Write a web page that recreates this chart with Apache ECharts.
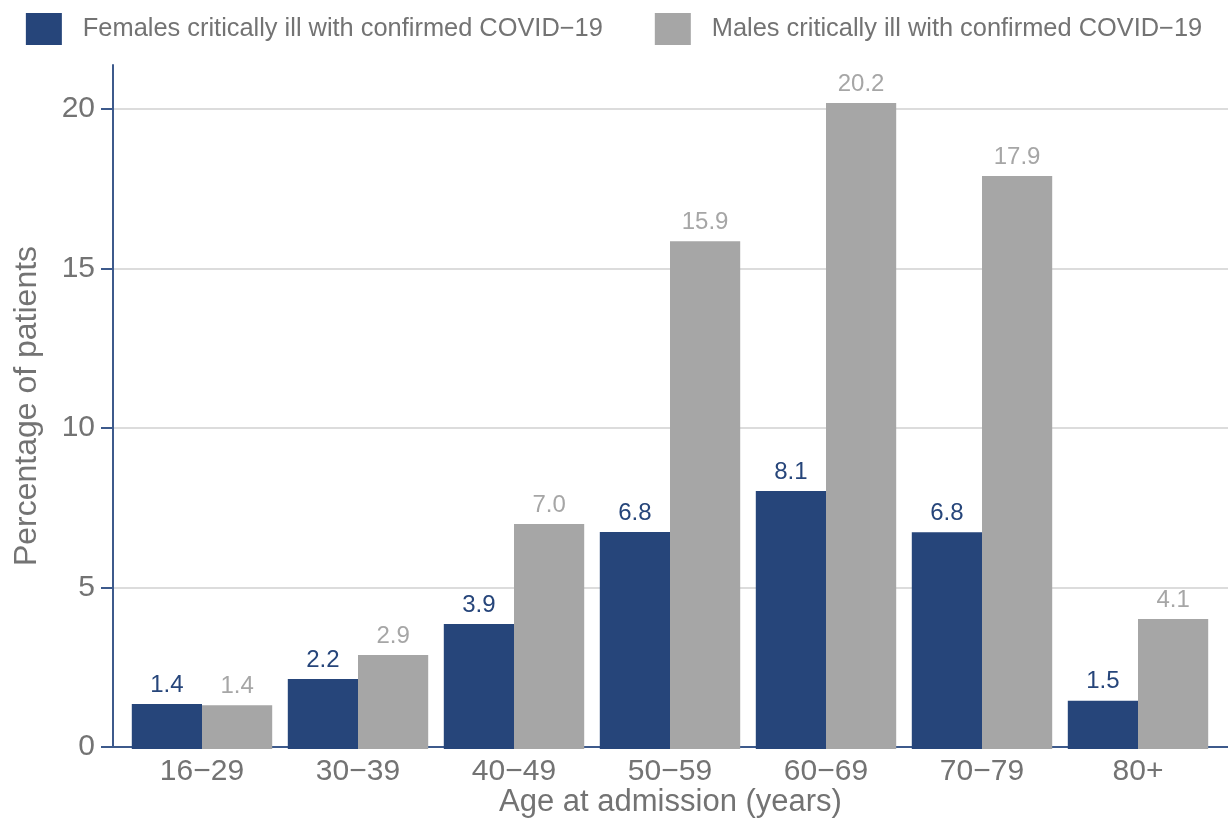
<!DOCTYPE html>
<html>
<head>
<meta charset="utf-8">
<script src="https://cdn.jsdelivr.net/npm/echarts@6/dist/echarts.min.js"></script>
<style>
html,body{margin:0;padding:0;background:#fff;}
#c{width:1228px;height:823px;}
</style>
</head>
<body>
<div id="c"></div>
<script>
const categories = ['16\u221229','30\u221239','40\u221249','50\u221259','60\u221269','70\u221279','80+'];
const femaleValues = [1.41, 2.19, 3.91, 6.78, 8.06, 6.77, 1.51];
const maleValues = [1.37, 2.94, 7.03, 15.87, 20.19, 17.91, 4.06];
const femaleName = 'Females critically ill with confirmed COVID\u221219';
const maleName = 'Males critically ill with confirmed COVID\u221219';
const yTicks = [0, 5, 10, 15, 20];

const FONT = '"Liberation Sans", Arial, Helvetica, sans-serif';
const BLUE = '#26457a';
const GREY = '#a6a6a6';
const AXIS = '#3d5a8c';
const TXT = '#737373';
const YMAX = 21.375;

const chart = echarts.init(document.getElementById('c'));
chart.setOption({
  animation: false,
  textStyle: {fontFamily: FONT},
  legend: {
    top: 8, left: 'center',
    itemWidth: 36, itemHeight: 32, itemGap: 52,
    icon: 'rect',
    textStyle: {fontSize: 25.4, color: TXT, fontFamily: FONT, padding: [0,0,0,16]},
    data: [femaleName, maleName]
  },
  grid: [
    {left: 113, right: 0, top: 65, bottom: 74},
    {left: 124, right: 12, top: 65, bottom: 74}
  ],
  xAxis: [
    {
      gridIndex: 0, type: 'value', min: 0, max: 1,
      axisLine: {show: true, onZero: false, lineStyle: {color: AXIS, width: 2}},
      axisTick: {show: false}, axisLabel: {show: false}, splitLine: {show: false},
      name: 'Age at admission (years)', nameLocation: 'middle', nameGap: 40,
      nameTextStyle: {fontSize: 31, color: TXT, fontFamily: FONT}
    },
    {
      gridIndex: 1, type: 'category', data: categories,
      axisLine: {show: false}, axisTick: {show: false},
      axisLabel: {fontSize: 30, color: TXT, margin: 8, fontFamily: FONT}
    }
  ],
  yAxis: [
    {
      gridIndex: 0, type: 'value', min: 0, max: YMAX, interval: 5,
      axisLine: {show: true, lineStyle: {color: AXIS, width: 2}},
      axisTick: {show: true, length: 12, lineStyle: {color: AXIS, width: 2}},
      axisLabel: {fontSize: 30, color: TXT, margin: 18, fontFamily: FONT,
        showMaxLabel: false,
        formatter: v => yTicks.indexOf(v) >= 0 ? String(v) : ''},
      splitLine: {show: true, lineStyle: {color: ['#dcdcdc','#dcdcdc','#dcdcdc','#dcdcdc','#dcdcdc','rgba(0,0,0,0)'], width: 2}},
      name: 'Percentage of patients', nameLocation: 'middle', nameGap: 70,
      nameTextStyle: {fontSize: 32, color: TXT, fontFamily: FONT}
    },
    {
      gridIndex: 1, type: 'value', min: 0, max: YMAX, interval: 5, show: false,
      splitLine: {show: false}
    }
  ],
  series: [
    {
      name: femaleName, type: 'bar', xAxisIndex: 1, yAxisIndex: 1,
      data: femaleValues, barGap: '0%', barCategoryGap: '10%',
      itemStyle: {color: BLUE},
      label: {show: true, position: 'top', distance: 7, fontSize: 24, color: BLUE, fontFamily: FONT,
        formatter: p => p.value.toFixed(1)}
    },
    {
      name: maleName, type: 'bar', xAxisIndex: 1, yAxisIndex: 1,
      data: maleValues, barGap: '0%', barCategoryGap: '10%',
      itemStyle: {color: GREY},
      label: {show: true, position: 'top', distance: 7, fontSize: 24, color: GREY, fontFamily: FONT,
        formatter: p => p.value.toFixed(1)}
    }
  ]
});
</script>
</body>
</html>
